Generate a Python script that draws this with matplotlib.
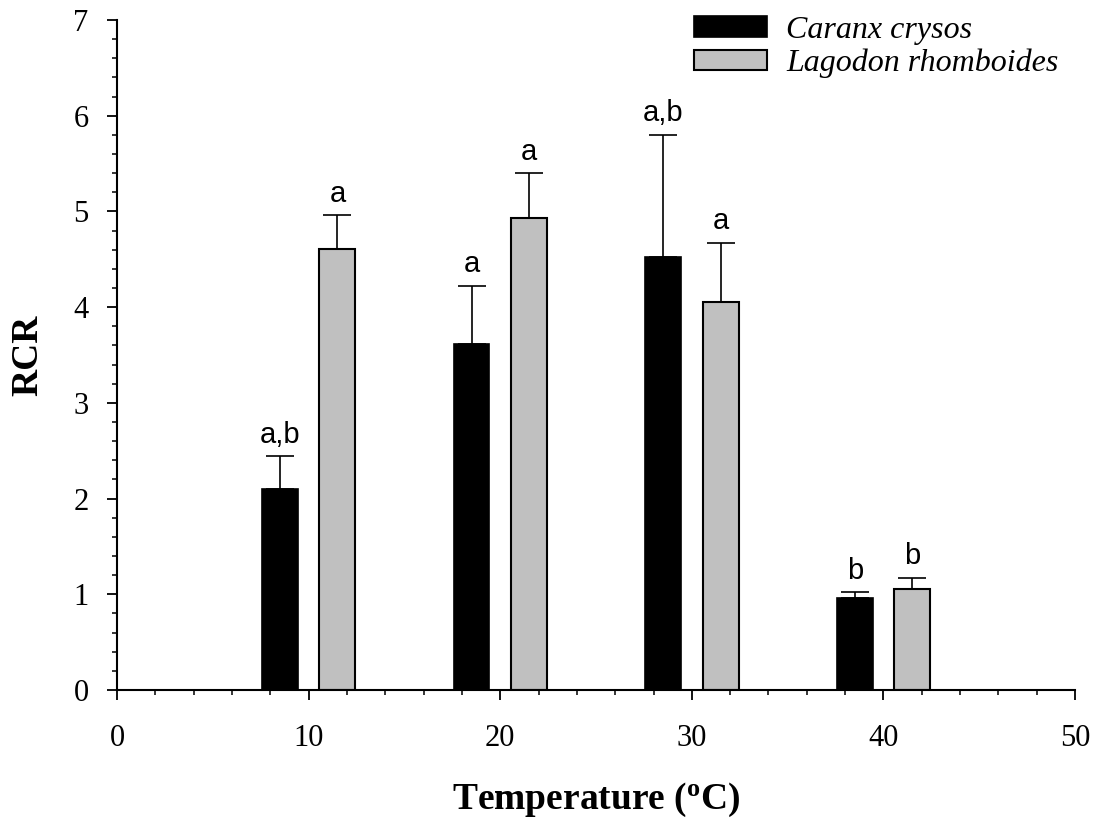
import numpy as np
import matplotlib
matplotlib.use("Agg")
from matplotlib import pyplot as plt
from matplotlib.ticker import MultipleLocator

# RCR je Temperatur, zwei Arten
temps = np.array([10, 20, 30, 40])
caranx = [2.10, 3.62, 4.52, 0.96]
caranx_err = [0.34, 0.60, 1.28, 0.06]
lagodon = [4.61, 4.93, 4.05, 1.06]
lagodon_err = [0.35, 0.47, 0.62, 0.11]
caranx_sig = ["a,b", "a", "a,b", "b"]
lagodon_sig = ["a", "a", "a", "b"]

serif = "Liberation Serif"
sans = "Liberation Sans"

fig = plt.figure(figsize=(10.98, 8.21), dpi=100)
ax = fig.add_axes([0.1066, 0.1596, 0.8725, 0.8160])

w = 1.875
off = 1.5
ax.bar(temps - off, caranx, width=w, color="black", edgecolor="black",
       linewidth=1.2, label="Caranx crysos", zorder=2)
ax.bar(temps + off, lagodon, width=w, color="#c0c0c0", edgecolor="black",
       linewidth=1.5, label="Lagodon rhomboides", zorder=2)

# nur obere Fehlerbalken
ax.errorbar(temps - off, caranx, yerr=[np.zeros(4), caranx_err], fmt="none",
            ecolor="black", elinewidth=1.2, capsize=10, capthick=1.2, zorder=1)
ax.errorbar(temps + off, lagodon, yerr=[np.zeros(4), lagodon_err], fmt="none",
            ecolor="black", elinewidth=1.2, capsize=10, capthick=1.2, zorder=1)

for x, y, e, s in zip(temps - off, caranx, caranx_err, caranx_sig):
    ax.text(x, y + e + 0.08, s, ha="center", va="bottom", fontsize=21, family=sans)
for x, y, e, s in zip(temps + off, lagodon, lagodon_err, lagodon_sig):
    ax.text(x, y + e + 0.08, s, ha="center", va="bottom", fontsize=21, family=sans)

ax.set_xlim(0, 50)
ax.set_ylim(0, 7)
ax.xaxis.set_major_locator(MultipleLocator(10))
ax.xaxis.set_minor_locator(MultipleLocator(2))
ax.yaxis.set_major_locator(MultipleLocator(1))
ax.yaxis.set_minor_locator(MultipleLocator(0.2))
ax.tick_params(which="major", direction="out", length=7.5, width=1.3,
               labelsize=22)
ax.tick_params(axis="x", which="major", pad=17)
ax.tick_params(axis="y", which="major", pad=13)
ax.tick_params(which="minor", direction="out", length=3.8, width=1.1)
for lab in ax.get_xticklabels() + ax.get_yticklabels():
    lab.set_family(serif)

ax.spines["top"].set_visible(False)
ax.spines["right"].set_visible(False)
ax.spines["left"].set_linewidth(1.5)
ax.spines["bottom"].set_linewidth(1.5)

ax.set_xlabel("Temperature ($\\mathregular{^o}$C)", fontsize=27, fontweight="bold",
              family=serif, labelpad=20)
ax.set_ylabel("RCR", fontsize=27, fontweight="bold", family=serif, labelpad=20)

leg = ax.legend(loc="upper right", bbox_to_anchor=(0.983, 1.006), frameon=False,
                borderaxespad=0, borderpad=0,
                prop={"family": serif, "style": "italic", "size": 23},
                handlelength=2.3, handleheight=0.62, handletextpad=0.6,
                labelspacing=0.12)

fig.savefig("out.png", dpi=100)
